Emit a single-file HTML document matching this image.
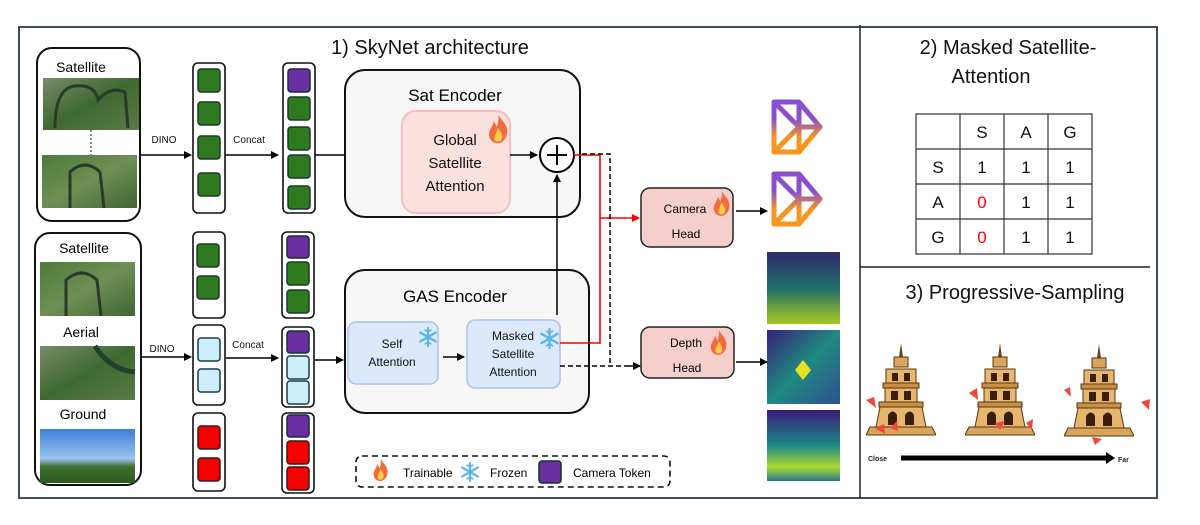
<!DOCTYPE html>
<html><head><meta charset="utf-8"><style>
html,body{margin:0;padding:0;background:#fff;}
svg{display:block;font-family:"Liberation Sans",sans-serif;}
</style></head><body>
<svg width="1200" height="525" viewBox="0 0 1200 525" xmlns="http://www.w3.org/2000/svg">
<defs>
<marker id="ah" markerWidth="8" markerHeight="8" refX="7" refY="4" orient="auto" markerUnits="userSpaceOnUse"><path d="M0,0 L8,4 L0,8 z" fill="#000"/></marker>
<marker id="ahr" markerWidth="8" markerHeight="8" refX="7" refY="4" orient="auto" markerUnits="userSpaceOnUse"><path d="M0,0 L8,4 L0,8 z" fill="#f00"/></marker>
<linearGradient id="cam" x1="0" y1="0" x2="0" y2="1"><stop offset="0" stop-color="#8a4fd0"/><stop offset="0.35" stop-color="#8a4fd0"/><stop offset="0.7" stop-color="#f7961c"/><stop offset="1" stop-color="#f7961c"/></linearGradient>
<linearGradient id="sat1" x1="0" y1="0" x2="1" y2="1"><stop offset="0" stop-color="#7a8a6a"/><stop offset="0.5" stop-color="#3e6a30"/><stop offset="1" stop-color="#5c7a48"/></linearGradient>
<linearGradient id="sat2" x1="0" y1="0" x2="1" y2="1"><stop offset="0" stop-color="#4d7a3a"/><stop offset="0.5" stop-color="#6f8f55"/><stop offset="1" stop-color="#3f6532"/></linearGradient>
<linearGradient id="sky" x1="0" y1="0" x2="0" y2="1"><stop offset="0" stop-color="#3d7fd8"/><stop offset="0.55" stop-color="#9cc4ef"/><stop offset="0.7" stop-color="#3f6e2e"/><stop offset="1" stop-color="#2c5a22"/></linearGradient>
<linearGradient id="d1" x1="0" y1="0" x2="0" y2="1"><stop offset="0" stop-color="#2f2a6a"/><stop offset="0.5" stop-color="#1f6e6a"/><stop offset="1" stop-color="#a8c820"/></linearGradient>
<linearGradient id="d2" x1="0" y1="0" x2="1" y2="1"><stop offset="0" stop-color="#35207a"/><stop offset="0.5" stop-color="#1f8a80"/><stop offset="1" stop-color="#2f5090"/></linearGradient>
<linearGradient id="d3" x1="0" y1="0" x2="0" y2="1"><stop offset="0" stop-color="#3a1a78"/><stop offset="0.5" stop-color="#1c8a86"/><stop offset="0.8" stop-color="#a8d830"/><stop offset="1" stop-color="#2a7a88"/></linearGradient>
<symbol id="tower" viewBox="0 0 70 95">
<path d="M35 0 L37 14 L33 14 Z" fill="#6b4416"/>
<rect x="28" y="14" width="14" height="10" fill="#d9a55c" stroke="#5a3510" stroke-width="1"/>
<rect x="20" y="26" width="30" height="14" fill="#e6b66e" stroke="#5a3510" stroke-width="1"/>
<rect x="17" y="40" width="36" height="5" fill="#c98f44" stroke="#5a3510" stroke-width="1"/>
<rect x="19" y="45" width="32" height="14" fill="#e6b66e" stroke="#5a3510" stroke-width="1"/>
<rect x="13" y="59" width="44" height="5" fill="#c98f44" stroke="#5a3510" stroke-width="1"/>
<path d="M14 64 L56 64 L60 84 L10 84 Z" fill="#e6b66e" stroke="#5a3510" stroke-width="1"/>
<path d="M4 84 L66 84 L70 92 L0 92 Z" fill="#d9a55c" stroke="#5a3510" stroke-width="1"/>
<path d="M22 82 L22 72 Q27 65 31 72 L31 82 Z M39 82 L39 72 Q44 65 48 72 L48 82 Z" fill="#3a1e0a"/>
<rect x="26" y="30" width="6" height="8" fill="#3a1e0a"/><rect x="38" y="30" width="6" height="8" fill="#3a1e0a"/>
<rect x="25" y="48" width="7" height="9" fill="#3a1e0a"/><rect x="38" y="48" width="7" height="9" fill="#3a1e0a"/>
</symbol>
<symbol id="fire" viewBox="0 0 20 26">
<path d="M10 0 C14 6 20 10 18 18 C17 23 13 26 10 26 C5 26 1 22 2 16 C3 12 6 10 6 6 C8 8 8 10 9 11 C10 7 11 4 10 0 Z" fill="#f26b3a"/>
<path d="M10 12 C13 16 15 19 13 23 C12 25 8 25 7 23 C6 20 8 18 10 12 Z" fill="#ffcb4c"/>
</symbol>
<symbol id="snow" viewBox="0 0 20 20">
<g stroke="#5ab4f0" stroke-width="2.2" stroke-linecap="round">
<line x1="10" y1="1" x2="10" y2="19"/><line x1="2.2" y1="5.5" x2="17.8" y2="14.5"/><line x1="2.2" y1="14.5" x2="17.8" y2="5.5"/>
<path d="M7 3 L10 5 L13 3 M7 17 L10 15 L13 17" fill="none" stroke-width="1.5"/>
</g>
</symbol>
<symbol id="camicon" viewBox="0 0 52 56" preserveAspectRatio="none">
<path d="M3 3 L28 3 L49 28 L28 53 L3 53 Z M3 3 L28 28 L3 53 M28 3 L28 53 M28 28 L49 28" fill="none" stroke="url(#cam)" stroke-width="5" stroke-linejoin="round"/>
</symbol>
</defs>

<rect x="19" y="27" width="1138" height="471" fill="none" stroke="#3d4f5c" stroke-width="2"/>
<line x1="860" y1="25" x2="860" y2="498" stroke="#222" stroke-width="1.5"/>
<line x1="860" y1="267" x2="1150" y2="267" stroke="#222" stroke-width="1.5"/>

<text x="430" y="54" font-size="20" text-anchor="middle" fill="#111">1)  SkyNet architecture</text>

<rect x="37" y="48" width="103" height="173" rx="15" fill="#fff" stroke="#111" stroke-width="2"/>
<text x="81" y="72" font-size="14" text-anchor="middle">Satellite</text>
<rect x="43" y="78" width="96" height="52" fill="url(#sat1)"/>
<path d="M55 128 Q55 88 75 86 Q95 84 98 100 Q110 86 125 92 L128 128" fill="none" stroke="#2a3a2a" stroke-width="3"/>
<line x1="91" y1="130" x2="91" y2="155" stroke="#888" stroke-width="2" stroke-dasharray="2,2"/>
<rect x="42" y="155" width="95" height="53" fill="url(#sat2)"/>
<path d="M70 208 L70 172 Q85 158 100 172 L104 208" fill="none" stroke="#2a3a2a" stroke-width="3"/>

<rect x="35" y="233" width="106" height="252" rx="15" fill="#fff" stroke="#111" stroke-width="2"/>
<text x="84" y="253" font-size="14" text-anchor="middle">Satellite</text>
<rect x="40" y="262" width="95" height="54" fill="url(#sat2)"/>
<path d="M66 316 L66 280 Q82 266 97 280 L101 316" fill="none" stroke="#2a3a2a" stroke-width="3"/>
<text x="81" y="337" font-size="14" text-anchor="middle">Aerial</text>
<rect x="40" y="346" width="95" height="54" fill="url(#sat1)"/>
<path d="M95 346 Q110 370 135 372" fill="none" stroke="#24402a" stroke-width="5"/>
<text x="83" y="419" font-size="14" text-anchor="middle">Ground</text>
<rect x="40" y="429" width="95" height="54" fill="url(#sky)"/>

<rect x="193" y="63" width="32" height="150" rx="5" fill="#fff" stroke="#111" stroke-width="1.6"/>
<g fill="#2f7a1f" stroke="#1a3a2a" stroke-width="1.5">
<rect x="198" y="69" width="22" height="23" rx="3"/><rect x="198" y="102" width="22" height="23" rx="3"/><rect x="198" y="136" width="22" height="23" rx="3"/><rect x="198" y="173" width="22" height="23" rx="3"/>
</g>
<rect x="283" y="63" width="32" height="150" rx="5" fill="#fff" stroke="#111" stroke-width="1.6"/>
<rect x="288" y="69" width="22" height="23" rx="3" fill="#6a2fa0" stroke="#1a2a3a" stroke-width="1.5"/>
<g fill="#2f7a1f" stroke="#1a3a2a" stroke-width="1.5">
<rect x="288" y="97" width="22" height="23" rx="3"/><rect x="288" y="127" width="22" height="23" rx="3"/><rect x="288" y="155" width="22" height="23" rx="3"/><rect x="288" y="186" width="22" height="23" rx="3"/>
</g>

<rect x="193" y="232" width="32" height="86" rx="5" fill="#fff" stroke="#111" stroke-width="1.6"/>
<g fill="#2f7a1f" stroke="#1a3a2a" stroke-width="1.5"><rect x="197" y="244" width="22" height="23" rx="3"/><rect x="197" y="276" width="22" height="23" rx="3"/></g>
<rect x="193" y="325" width="32" height="80" rx="5" fill="#fff" stroke="#111" stroke-width="1.6"/>
<g fill="#cdeffc" stroke="#1a3a4a" stroke-width="1.5"><rect x="198" y="338" width="22" height="23" rx="3"/><rect x="198" y="369" width="22" height="23" rx="3"/></g>
<rect x="193" y="413" width="32" height="78" rx="5" fill="#fff" stroke="#111" stroke-width="1.6"/>
<g fill="#f40000" stroke="#3a1a1a" stroke-width="1.5"><rect x="198" y="426" width="22" height="23" rx="3"/><rect x="198" y="458" width="22" height="23" rx="3"/></g>

<rect x="282" y="232" width="32" height="86" rx="5" fill="#fff" stroke="#111" stroke-width="1.6"/>
<rect x="287" y="236" width="22" height="22" rx="3" fill="#6a2fa0" stroke="#1a2a3a" stroke-width="1.5"/>
<g fill="#2f7a1f" stroke="#1a3a2a" stroke-width="1.5"><rect x="287" y="262" width="22" height="23" rx="3"/><rect x="287" y="290" width="22" height="23" rx="3"/></g>
<rect x="282" y="327" width="32" height="80" rx="5" fill="#fff" stroke="#111" stroke-width="1.6"/>
<rect x="287" y="331" width="22" height="22" rx="3" fill="#6a2fa0" stroke="#1a2a3a" stroke-width="1.5"/>
<g fill="#cdeffc" stroke="#1a3a4a" stroke-width="1.5"><rect x="287" y="356" width="22" height="23" rx="3"/><rect x="287" y="381" width="22" height="23" rx="3"/></g>
<rect x="282" y="413" width="32" height="80" rx="5" fill="#fff" stroke="#111" stroke-width="1.6"/>
<rect x="287" y="415" width="22" height="22" rx="3" fill="#6a2fa0" stroke="#1a2a3a" stroke-width="1.5"/>
<g fill="#f40000" stroke="#3a1a1a" stroke-width="1.5"><rect x="287" y="441" width="22" height="23" rx="3"/><rect x="287" y="467" width="22" height="23" rx="3"/></g>

<g stroke="#000" stroke-width="1.5" marker-end="url(#ah)">
<line x1="141" y1="155" x2="191" y2="155"/>
<line x1="225" y1="155" x2="278" y2="155"/>
<line x1="315" y1="155" x2="400" y2="155"/>
<line x1="141" y1="357" x2="191" y2="357"/>
<line x1="226" y1="358" x2="278" y2="358"/>
<line x1="315" y1="360" x2="343" y2="360"/>
</g>
<g font-size="10" fill="#111" text-anchor="middle">
<text x="164" y="143">DINO</text><text x="249" y="143">Concat</text>
<text x="162" y="352">DINO</text><text x="248" y="348">Concat</text>
</g>

<rect x="345" y="70" width="235" height="147" rx="20" fill="#f7f7f7" stroke="#111" stroke-width="2"/>
<text x="455" y="101" font-size="17" text-anchor="middle">Sat Encoder</text>
<rect x="402" y="111" width="108" height="102" rx="14" fill="#fbe0e0" stroke="#f7bcbc" stroke-width="2"/>
<g font-size="15" text-anchor="middle" fill="#111"><text x="455" y="145">Global</text><text x="455" y="168">Satellite</text><text x="455" y="191">Attention</text></g>
<use href="#fire" x="487" y="114" width="22" height="30"/>
<line x1="510" y1="155" x2="537" y2="155" stroke="#000" stroke-width="1.5" marker-end="url(#ah)"/>
<circle cx="557" cy="155" r="17" fill="#fff" stroke="#000" stroke-width="2"/>
<line x1="547" y1="155" x2="567" y2="155" stroke="#000" stroke-width="2"/>
<line x1="557" y1="145" x2="557" y2="165" stroke="#000" stroke-width="2"/>

<rect x="345" y="270" width="244" height="143" rx="20" fill="#f7f7f7" stroke="#111" stroke-width="2"/>
<text x="455" y="302" font-size="17" text-anchor="middle">GAS Encoder</text>
<line x1="557" y1="315" x2="557" y2="175" stroke="#000" stroke-width="1.5" marker-end="url(#ah)"/>
<rect x="348" y="322" width="90" height="62" rx="8" fill="#dce9fb" stroke="#a8c2ec" stroke-width="1.5"/>
<g font-size="12" text-anchor="middle" fill="#111"><text x="392" y="348">Self</text><text x="392" y="366">Attention</text></g>
<use href="#snow" x="418" y="327" width="20" height="20"/>
<line x1="443" y1="357" x2="464" y2="357" stroke="#000" stroke-width="1.5" marker-end="url(#ah)"/>
<rect x="467" y="320" width="93" height="68" rx="8" fill="#dce9fb" stroke="#a8c2ec" stroke-width="1.5"/>
<g font-size="12" text-anchor="middle" fill="#111"><text x="513" y="340">Masked</text><text x="513" y="358">Satellite</text><text x="513" y="376">Attention</text></g>
<use href="#snow" x="539" y="328" width="21" height="21"/>

<g fill="none" stroke="#f00" stroke-width="1.6">
<polyline points="574,155 600,155 600,343 560,343"/>
</g>
<line x1="600" y1="218" x2="639" y2="218" stroke="#f00" stroke-width="1.6" marker-end="url(#ahr)"/>
<g fill="none" stroke="#000" stroke-width="1.5" stroke-dasharray="5,3">
<polyline points="582,154 610,154 610,366"/>
<line x1="560" y1="366" x2="630" y2="366"/>
</g>
<line x1="628" y1="366" x2="640" y2="366" stroke="#000" stroke-width="1.5" marker-end="url(#ah)"/>

<rect x="641" y="188" width="92" height="59" rx="9" fill="#f6cfcc" stroke="#222" stroke-width="1.5"/>
<text x="685" y="213" font-size="12" text-anchor="middle">Camera</text>
<text x="686" y="238" font-size="12" text-anchor="middle">Head</text>
<use href="#fire" x="712" y="191" width="19" height="25"/>
<rect x="641" y="327" width="93" height="51" rx="9" fill="#f6cfcc" stroke="#222" stroke-width="1.5"/>
<text x="686" y="347" font-size="12" text-anchor="middle">Depth</text>
<text x="687" y="372" font-size="12" text-anchor="middle">Head</text>
<use href="#fire" x="709" y="330" width="19" height="25"/>
<line x1="736" y1="211" x2="767" y2="211" stroke="#000" stroke-width="1.5" marker-end="url(#ah)"/>
<line x1="736" y1="362" x2="767" y2="362" stroke="#000" stroke-width="1.5" marker-end="url(#ah)"/>

<use href="#camicon" x="771" y="99" width="52" height="56"/>
<use href="#camicon" x="771" y="171" width="52" height="56"/>
<rect x="767" y="252" width="73" height="72" fill="url(#d1)"/>
<rect x="767" y="330" width="73" height="74" fill="url(#d2)"/>
<path d="M795 370 L803 360 L811 370 L803 380 Z" fill="#e8e020"/>
<rect x="767" y="410" width="73" height="71" fill="url(#d3)"/>

<rect x="356" y="456" width="314" height="31" rx="6" fill="none" stroke="#111" stroke-width="1.6" stroke-dasharray="6,4"/>
<use href="#fire" x="372" y="458" width="17" height="24"/>
<text x="403" y="477" font-size="12">Trainable</text>
<use href="#snow" x="460" y="462" width="20" height="20"/>
<text x="490" y="477" font-size="12">Frozen</text>
<rect x="539" y="461" width="22" height="22" rx="3" fill="#6a2fa0" stroke="#1a2a3a" stroke-width="1.5"/>
<text x="573" y="477" font-size="12">Camera Token</text>

<text x="1008" y="54" font-size="20" text-anchor="middle" fill="#111">2) Masked Satellite-</text>
<text x="991" y="83" font-size="20" text-anchor="middle" fill="#111">Attention</text>
<g stroke="#333" stroke-width="1.2" fill="none">
<rect x="916" y="114" width="176" height="140"/>
<line x1="960" y1="114" x2="960" y2="254"/><line x1="1004" y1="114" x2="1004" y2="254"/><line x1="1048" y1="114" x2="1048" y2="254"/>
<line x1="916" y1="149" x2="1092" y2="149"/><line x1="916" y1="184" x2="1092" y2="184"/><line x1="916" y1="219" x2="1092" y2="219"/>
</g>
<g font-size="17" text-anchor="middle" fill="#111">
<text x="982" y="138">S</text><text x="1026" y="138">A</text><text x="1070" y="138">G</text>
<text x="938" y="173">S</text><text x="982" y="173">1</text><text x="1026" y="173">1</text><text x="1070" y="173">1</text>
<text x="938" y="208">A</text><text x="982" y="208" fill="#f00">0</text><text x="1026" y="208">1</text><text x="1070" y="208">1</text>
<text x="938" y="243">G</text><text x="982" y="243" fill="#f00">0</text><text x="1026" y="243">1</text><text x="1070" y="243">1</text>
</g>

<text x="1015" y="299" font-size="20" text-anchor="middle" fill="#111">3) Progressive-Sampling</text>
<use href="#tower" x="866" y="343" width="70" height="95"/>
<use href="#tower" x="965" y="343" width="70" height="95"/>
<use href="#tower" x="1064" y="344" width="70" height="95"/>
<g fill="#f0473a">
<path d="M866 400 L874 397 L876 408 Z"/><path d="M875 428 L884 424 L885 434 Z"/><path d="M890 428 L897 421 L898 431 Z"/>
<path d="M969 393 L977 388 L978 400 Z"/><path d="M995 423 L1005 421 L1000 430 Z"/><path d="M1026 423 L1033 419 L1032 430 Z"/>
<path d="M1064 390 L1070 387 L1071 397 Z"/><path d="M1141 402 L1150 399 L1149 410 Z"/><path d="M1092 437 L1102 439 L1095 445 Z"/>
</g>
<text x="868" y="461" font-size="7" font-weight="bold" fill="#222">Close</text>
<line x1="901" y1="458" x2="1108" y2="458" stroke="#000" stroke-width="5"/>
<path d="M1106 452 L1115 458 L1106 464 Z" fill="#000"/>
<text x="1118" y="462" font-size="7" font-weight="bold" fill="#222">Far</text>
</svg>
</body></html>
